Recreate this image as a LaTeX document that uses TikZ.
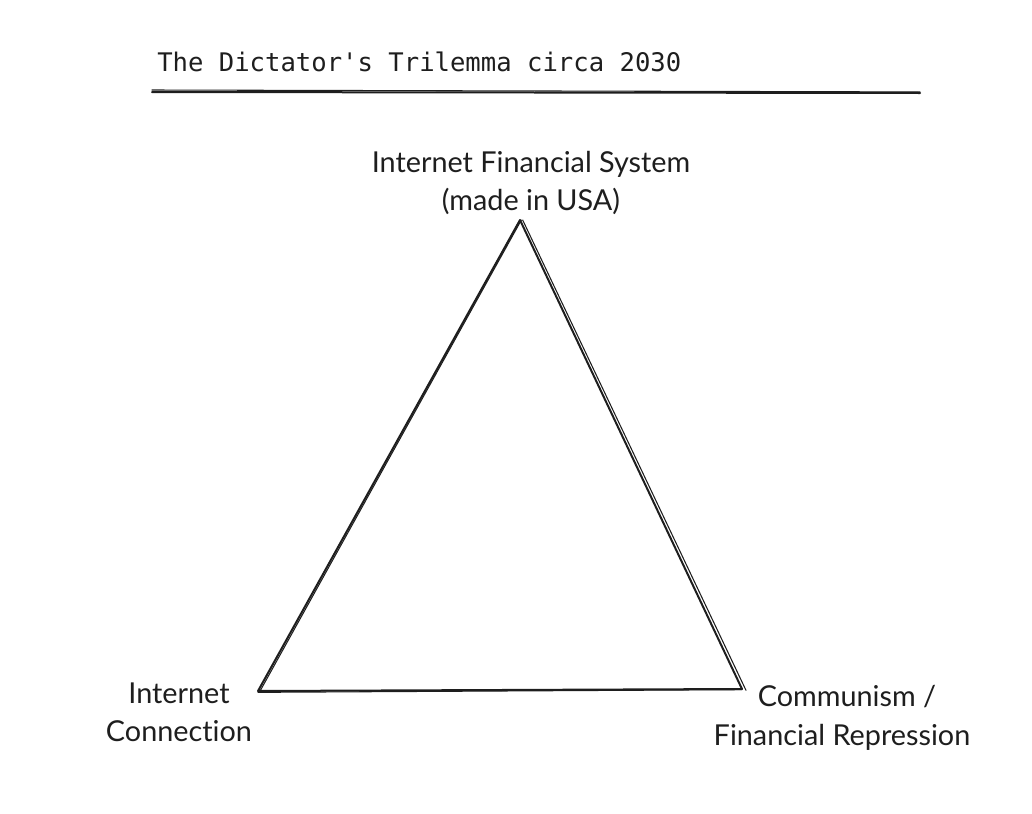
\documentclass[tikz,border=0pt]{standalone}
\usepackage{fontspec}
\setmainfont[Ligatures=NoCommon]{Lato}
\setmonofont{DejaVu Sans Mono}
\definecolor{ink}{HTML}{1E1E1E}
\tikzset{
  lab/.style={anchor=base, text=ink, inner sep=0pt, font=\fontsize{21.6}{26}\selectfont},
  ttl/.style={anchor=base west, text=ink, inner sep=0pt, font=\ttfamily\fontsize{19.2}{23}\selectfont},
  stroke/.style={draw=ink, line width=1.5pt, line cap=round, line join=round},
  stroke2/.style={draw=ink, line width=0.8pt, line cap=round},
}
\begin{document}
\begin{tikzpicture}[x=0.75pt,y=-0.75pt]
\useasboundingbox (0,0) rectangle (1032,814);
\node[ttl] (title) at (157,71) {The Dictator's Trilemma circa 2030};
\coordinate (ul1) at (152,92);
\coordinate (ul2) at (920,93);
\draw[stroke] (ul1) -- (ul2);
\draw[stroke2] ([yshift=1.5pt]ul1) -- ([yshift=0.8pt]ul2);
\coordinate (T) at (520,220);
\coordinate (L) at (258,691);
\coordinate (R) at (742,689);
\draw[stroke] (T) -- (L) -- (R) -- cycle;
\draw[stroke2] ([xshift=1pt]T) -- ([xshift=1pt,yshift=-1pt]L);
\draw[stroke2] ([yshift=-1pt]L) -- ([yshift=-0.5pt]R);
\draw[stroke2] ([xshift=2pt]T) -- ([xshift=3pt,yshift=-1pt]R);
\node[lab] (top1) at (531,172) {Internet Financial System};
\node[lab] (top2) at (531,210) {(made in USA)};
\node[lab] (l1) at (179,703) {Internet};
\node[lab] (l2) at (179,741) {Connection};
\node[lab] (r1) at (847,706) {Communism /};
\node[lab] (r2) at (842,745) {Financial Repression};
\end{tikzpicture}
\end{document}
